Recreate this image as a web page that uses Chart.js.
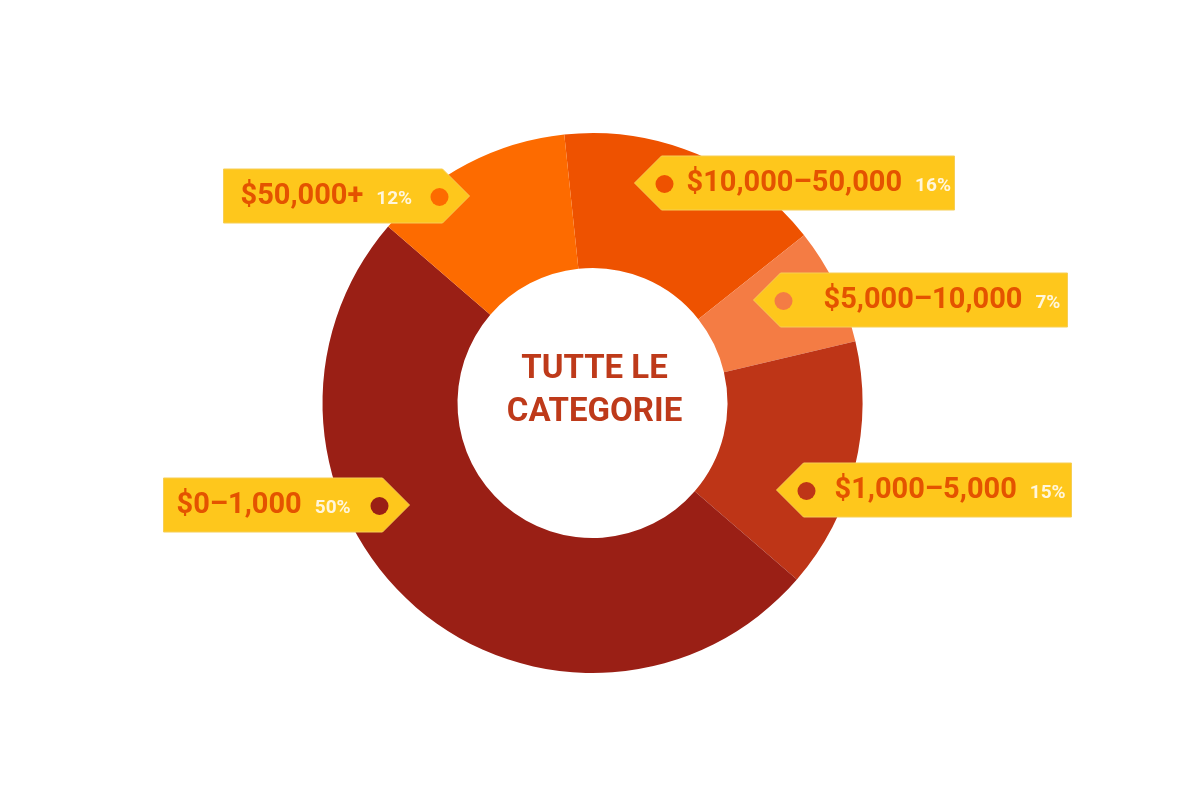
<!DOCTYPE html>
<html>
<head>
<meta charset="utf-8">
<script src="https://cdn.jsdelivr.net/npm/chart.js@4/dist/chart.umd.min.js"></script>
<style>
  html,body{margin:0;padding:0;background:#fff;}
  #wrap{width:1200px;height:800px;}
</style>
</head>
<body>
<div id="wrap"><canvas id="donut" width="1200" height="800"></canvas></div>
<script>
// data, clockwise from the top
const categories = ['$10,000–50,000', '$5,000–10,000', '$1,000–5,000', '$0–1,000', '$50,000+'];
const shares = [16, 7, 15, 50, 12];
const centerLines = ['TUTTE LE', 'CATEGORIE'];

const sliceColors = ['#EE5200', '#F47C44', '#BE3517', '#9A1F15', '#FD6B00'];

// tag placement: tip offset from the chart centre, which way the tag runs, its width, text start
const tagLayout = [
  {dx: 42,   dy: -220, dir: 1,  w: 320, textAt: 52},
  {dx: 161,  dy: -103, dir: 1,  w: 314, textAt: 70},
  {dx: 184,  dy: 87,   dir: 1,  w: 295, textAt: 58},
  {dx: -183, dy: 102,  dir: -1, w: 246, textAt: 13},
  {dx: -123, dy: -207, dir: -1, w: 246, textAt: 17},
];

const TAG_H = 54;
const labelFont = 'bold 29px Roboto, "Noto Sans", sans-serif';
const pctFont = 'bold 19px Roboto, "Noto Sans", sans-serif';

const tagPlugin = {
  id: 'tags',
  afterDraw(chart){
    const ctx = chart.ctx;
    const arc = chart.getDatasetMeta(0).data[0];
    const cx = arc.x, cy = arc.y;

    // centre title
    ctx.save();
    ctx.fillStyle = '#BE3A1A';
    ctx.font = 'bold 33px Roboto, "Noto Sans", sans-serif';
    ctx.textAlign = 'center';
    ctx.textBaseline = 'middle';
    ctx.fillText(centerLines[0], cx + 2, cy - 33);
    ctx.fillText(centerLines[1], cx + 2, cy + 10);
    ctx.restore();

    categories.forEach((cat, i) => {
      const t = tagLayout[i];
      const tx = cx + t.dx, ty = cy + t.dy;
      const h2 = TAG_H / 2;
      const far = tx + t.dir * t.w;
      ctx.save();
      ctx.beginPath();
      ctx.moveTo(tx, ty);
      ctx.lineTo(tx + t.dir * h2, ty - h2);
      ctx.lineTo(far, ty - h2);
      ctx.lineTo(far, ty + h2);
      ctx.lineTo(tx + t.dir * h2, ty + h2);
      ctx.closePath();
      ctx.fillStyle = '#FEC71C';
      ctx.fill();
      ctx.strokeStyle = '#F6CE55';
      ctx.lineWidth = 1;
      ctx.stroke();

      // hole
      ctx.beginPath();
      ctx.arc(tx + t.dir * 30, ty + 1, 9, 0, Math.PI * 2);
      ctx.fillStyle = sliceColors[i];
      ctx.fill();

      // texts
      const startX = t.dir === 1 ? tx + t.textAt : far + t.textAt;
      ctx.textBaseline = 'middle';
      ctx.textAlign = 'left';
      ctx.font = labelFont;
      ctx.fillStyle = '#E45300';
      ctx.fillText(cat, startX, ty + 1);
      const lw = ctx.measureText(cat).width;
      ctx.font = pctFont;
      ctx.fillStyle = '#FFF6DC';
      ctx.fillText(shares[i] + '%', startX + lw + 13, ty + 3);
      ctx.restore();
    });
  }
};

new Chart(document.getElementById('donut'), {
  type: 'doughnut',
  data: {
    labels: categories,
    datasets: [{
      data: shares,
      backgroundColor: sliceColors,
      borderWidth: 0,
      hoverOffset: 0,
    }]
  },
  options: {
    responsive: false,
    animation: false,
    rotation: -6,
    cutout: '50%',
    layout: {padding: {top: 133, bottom: 127, left: 322, right: 337}},
    plugins: {legend: {display: false}, tooltip: {enabled: false}},
  },
  plugins: [tagPlugin]
});
</script>
</body>
</html>
